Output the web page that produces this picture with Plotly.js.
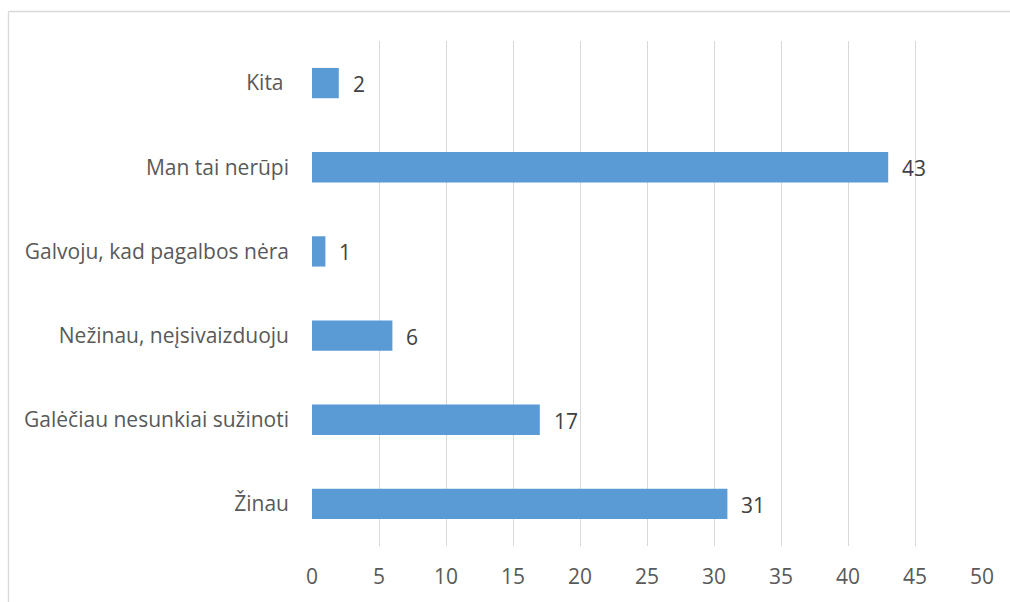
<!DOCTYPE html>
<html>
<head>
<meta charset="utf-8">
<script src="https://cdn.plot.ly/plotly-3.0.1.min.js"></script>
<style>html,body{margin:0;padding:0;background:#fff;}#chart{width:1010px;height:602px;}</style>
</head>
<body>
<div id="chart"></div>
<script>
const categories = ["Žinau", "Galėčiau nesunkiai sužinoti", "Nežinau, neįsivaizduoju", "Galvoju, kad pagalbos nėra", "Man tai nerūpi", "Kita "];
const values = [31, 17, 6, 1, 43, 2];
const tickValues = [0, 5, 10, 15, 20, 25, 30, 35, 40, 45, 50];

const W = 1010, H = 602;
const M = {l: 312, r: 28, t: 41, b: 56};
const pw = W - M.l - M.r, ph = H - M.t - M.b;
const px = x => (x - M.l) / pw;
const py = y => 1 - (y - M.t) / ph;

const font = "'Open Sans', sans-serif";

const trace = {
  type: 'bar',
  orientation: 'h',
  x: values,
  y: categories,
  marker: {color: '#5B9BD5'},
  width: 0.36,
  hoverinfo: 'none'
};

const annotations = values.map((v, i) => ({
  x: v, y: categories[i], xref: 'x', yref: 'y',
  text: String(v), showarrow: false, xanchor: 'left', yanchor: 'middle',
  xshift: 12, yshift: -1,
  font: {family: font, size: 21, color: '#404040'}
}));

const layout = {
  width: W, height: H,
  margin: M,
  paper_bgcolor: '#fff', plot_bgcolor: '#fff',
  showlegend: false,
  xaxis: {
    range: [0, 50], tickvals: tickValues, ticktext: tickValues.map(String),
    showgrid: true, gridcolor: '#D9D9D9', gridwidth: 1,
    zeroline: false, showline: false, ticks: '',
    tickfont: {family: font, size: 21, color: '#595959'},
    ticklabelstandoff: 16, fixedrange: true
  },
  yaxis: {
    type: 'category', categoryorder: 'array', categoryarray: categories,
    showgrid: false, zeroline: false, showline: false, ticks: '',
    tickfont: {family: font, size: 21, color: '#595959'},
    ticklabelstandoff: 22, fixedrange: true
  },
  annotations: annotations,
  shapes: [
    {type: 'line', xref: 'paper', yref: 'paper', x0: px(8.5), x1: px(1015), y0: py(11.5), y1: py(11.5), line: {color: '#D9D9D9', width: 1.3}},
    {type: 'line', xref: 'paper', yref: 'paper', x0: px(8.5), x1: px(8.5), y0: py(11.5), y1: py(610), line: {color: '#D9D9D9', width: 1.3}}
  ]
};

Plotly.newPlot('chart', [trace], layout, {displayModeBar: false, staticPlot: true});
</script>
</body>
</html>
